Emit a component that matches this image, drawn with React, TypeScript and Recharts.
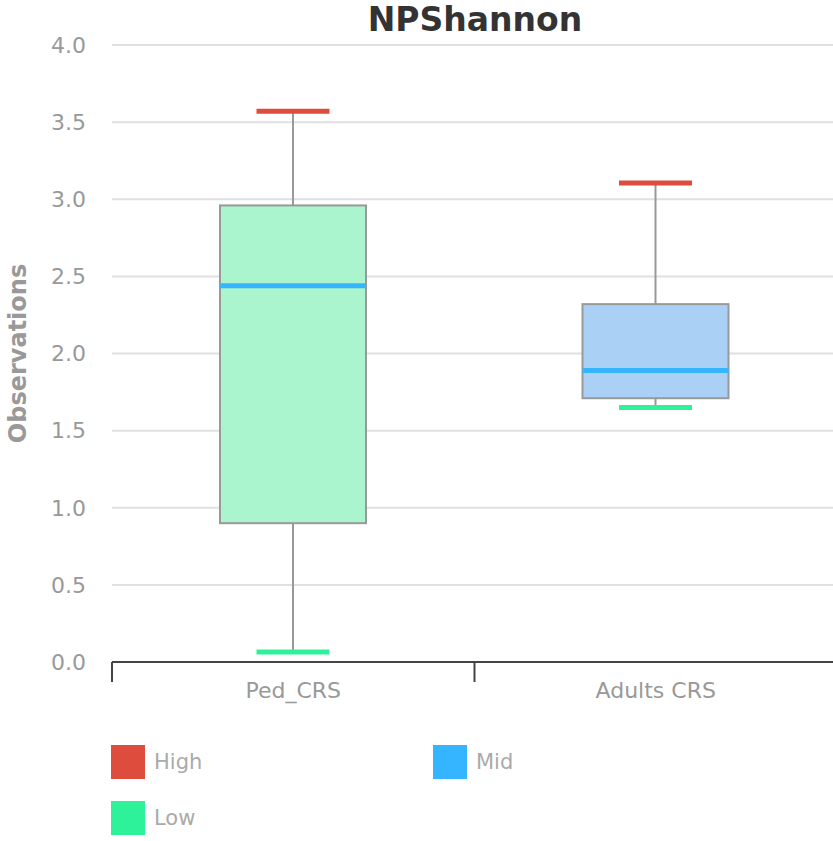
import { ComposedChart, Bar, XAxis, YAxis, CartesianGrid, Label } from 'recharts';

// box plot values per group
const categories = ['Ped_CRS', 'Adults CRS'];
const lowValues = [0.065, 1.65];
const q1Values = [0.9, 1.71];
const midValues = [2.44, 1.89];
const q3Values = [2.96, 2.32];
const highValues = [3.57, 3.105];
const yTicks = [0, 0.5, 1, 1.5, 2, 2.5, 3, 3.5, 4];

const legendItems = ['High', 'Mid', 'Low'];

const HIGH_COLOR = '#dd4c3d';
const MID_COLOR = '#35b5ff';
const LOW_COLOR = '#2ef29a';
const boxFills = ['#aaf5cd', '#aad0f5'];
const FONT = '"DejaVu Sans", Verdana, sans-serif';

const chartData = categories.map((name, i) => ({
  name,
  low: lowValues[i],
  q1: q1Values[i],
  mid: midValues[i],
  q3: q3Values[i],
  high: highValues[i],
}));

const BoxShape = (props: any) => {
  const { x, y, width, height, payload, index } = props;
  const top = Math.min(y, y + height);
  const h = Math.abs(height);
  const perUnit = h / (payload.high - payload.low);
  const py = (v: number) => top + (payload.high - v) * perUnit;
  const cx = x + width / 2;
  const capW = width / 2;
  return (
    <g>
      <line x1={cx} x2={cx} y1={py(payload.high)} y2={py(payload.q3)} stroke="#999" strokeWidth={2} />
      <line x1={cx} x2={cx} y1={py(payload.q1)} y2={py(payload.low)} stroke="#999" strokeWidth={2} />
      <rect
        x={x}
        y={py(payload.q3)}
        width={width}
        height={py(payload.q1) - py(payload.q3)}
        fill={boxFills[index]}
        stroke="#999"
        strokeWidth={2}
      />
      <line x1={x} x2={x + width} y1={py(payload.mid)} y2={py(payload.mid)} stroke={MID_COLOR} strokeWidth={5} />
      <line x1={cx - capW / 2} x2={cx + capW / 2} y1={py(payload.high)} y2={py(payload.high)} stroke={HIGH_COLOR} strokeWidth={5} />
      <line x1={cx - capW / 2} x2={cx + capW / 2} y1={py(payload.low)} y2={py(payload.low)} stroke={LOW_COLOR} strokeWidth={5} />
    </g>
  );
};

const XTick = (props: any) => {
  const { x, y, payload } = props;
  const left = x - (payload.offset || 0);
  return (
    <g>
      <line x1={left} x2={left} y1={y} y2={y + 20} stroke="#444" strokeWidth={2} />
      <text x={x} y={y + 36} textAnchor="middle" fill="#999" fontSize={22} fontFamily={FONT}>
        {payload.value}
      </text>
    </g>
  );
};

export default function App() {
  const legendColors: Record<string, string> = { High: HIGH_COLOR, Mid: MID_COLOR, Low: LOW_COLOR };
  const legendPos: Record<string, { left: number; top: number }> = {
    High: { left: 111, top: 745 },
    Mid: { left: 433, top: 745 },
    Low: { left: 111, top: 801 },
  };

  return (
    <div style={{ position: 'absolute', left: 0, top: 0, width: 833, height: 841, overflow: 'hidden', background: '#fff' }}>
      <div
        style={{
          position: 'absolute',
          left: 0,
          width: 950,
          top: 0,
          textAlign: 'center',
          fontFamily: FONT,
          fontWeight: 'bold',
          fontSize: 33,
          color: '#333',
        }}
      >
        NPShannon
      </div>
      <ComposedChart
        width={837}
        height={720}
        data={chartData}
        margin={{ top: 45, right: 0, bottom: 18, left: 52 }}
      >
        <CartesianGrid vertical={false} stroke="#e0e0e0" strokeWidth={2} />
        <XAxis
          dataKey="name"
          height={40}
          stroke="#444"
          strokeWidth={2}
          tickLine={false}
          tickSize={0}
          tickMargin={0}
          tick={<XTick />}
        />
        <YAxis
          width={60}
          domain={[0, 4]}
          ticks={yTicks}
          axisLine={false}
          tickLine={false}
          tickSize={0}
          tickMargin={26}
          tickFormatter={(v: number) => v.toFixed(1)}
          tick={{ fill: '#999', fontSize: 22, fontFamily: FONT }}
        >
          <Label
            content={(p: any) => {
              const vb = p.viewBox || {};
              const cy = (vb.y || 0) + (vb.height || 0) / 2;
              return (
                <text
                  x={26}
                  y={cy}
                  transform={`rotate(-90, 26, ${cy})`}
                  textAnchor="middle"
                  fill="#999"
                  fontSize={24}
                  fontWeight="bold"
                  fontFamily={FONT}
                >
                  Observations
                </text>
              );
            }}
          />
        </YAxis>
        <Bar
          dataKey={(d: any) => [d.low, d.high]}
          barSize={146}
          shape={<BoxShape />}
          isAnimationActive={false}
        />
      </ComposedChart>
      {legendItems.map((name) => (
        <div
          key={name}
          style={{
            position: 'absolute',
            left: legendPos[name].left,
            top: legendPos[name].top,
            display: 'flex',
            alignItems: 'center',
            fontFamily: FONT,
            fontSize: 21,
            color: '#aaa',
          }}
        >
          <div style={{ width: 34, height: 34, background: legendColors[name], marginRight: 9 }} />
          <span>{name}</span>
        </div>
      ))}
    </div>
  );
}
